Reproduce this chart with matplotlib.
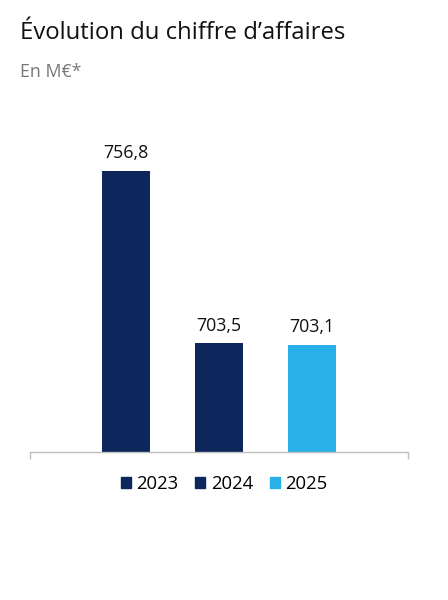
import matplotlib
matplotlib.use("Agg")
import matplotlib.pyplot as plt
from matplotlib.patches import Patch

years = ["2023", "2024", "2025"]
values = [756.8, 703.5, 703.1]
labels = ["756,8", "703,5", "703,1"]
colors = ["#0D265C", "#0D265C", "#29B0E8"]

plt.rcParams["font.family"] = ["Open Sans", "DejaVu Sans"]

fig = plt.figure(figsize=(4.48, 6), dpi=100)
ax = fig.add_axes([0.067, 0.2467, 0.844, 0.536])

x = list(range(len(years)))
bars = ax.bar(x, values, width=0.52, color=colors)
ax.set_ylim(670, 769.2)
ax.set_xlim(-1.03, 3.03)

for b, lab in zip(bars, labels):
    ax.annotate(lab, (b.get_x() + b.get_width() / 2, b.get_height()),
                xytext=(0, 6), textcoords="offset points",
                ha="center", va="bottom", fontsize=12.8, color="#111111")

for s in ["top", "right", "left"]:
    ax.spines[s].set_visible(False)
ax.spines["bottom"].set_color("#BFBFBF")
ax.spines["bottom"].set_linewidth(1)
ax.set_yticks([])
ax.set_xticks(ax.get_xlim())
ax.set_xticklabels([])
ax.tick_params(axis="x", length=5, color="#BFBFBF", width=1)

handles = [Patch(color=c, label=y) for c, y in zip(colors, years)]
fig.legend(handles=handles, loc="center", bbox_to_anchor=(0.5, 0.193), ncol=3,
           frameon=False, fontsize=13.3, handlelength=0.55, handleheight=0.55,
           handletextpad=0.3, columnspacing=0.9)

fig.text(0.045, 0.945, "Évolution du chiffre d’affaires", fontsize=17.2,
         color="#111111", va="center")
fig.text(0.045, 0.88, "En M€*", fontsize=12.8, color="#777777", va="center")

fig.savefig("out.png", dpi=100)
